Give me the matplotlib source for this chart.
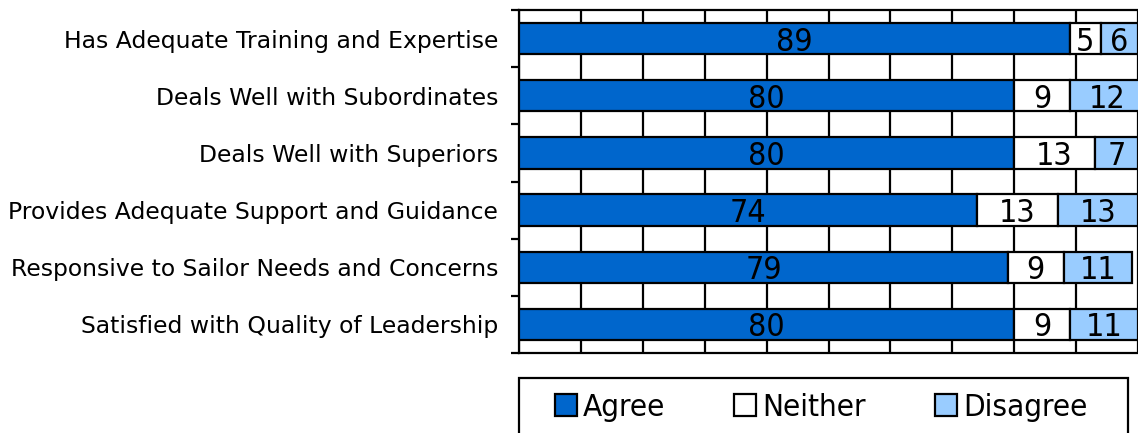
import numpy as np
import matplotlib
matplotlib.use("Agg")
import matplotlib.pyplot as plt
from matplotlib.patches import Rectangle, Patch

# данные
categories = [
    "Has Adequate Training and Expertise",
    "Deals Well with Subordinates",
    "Deals Well with Superiors",
    "Provides Adequate Support and Guidance",
    "Responsive to Sailor Needs and Concerns",
    "Satisfied with Quality of Leadership",
]
agree = [89, 80, 80, 74, 79, 80]
neither = [5, 9, 13, 13, 9, 9]
disagree = [6, 12, 7, 13, 11, 11]
series_names = ["Agree", "Neither", "Disagree"]
colors = ["#0066CC", "#FFFFFF", "#99CCFF"]

fig = plt.figure(figsize=(11.38, 4.33), dpi=100)
ax = fig.add_axes([519 / 1138, 1 - 353 / 433, 1 - 519 / 1138, (353 - 10) / 433])

y = np.arange(len(categories))
left = np.zeros(len(categories))
for vals, name, col in zip([agree, neither, disagree], series_names, colors):
    bars = ax.barh(y, vals, left=left, height=0.55, color=col, edgecolor="black",
                   linewidth=1.6, label=name, zorder=3)
    for b, v in zip(bars, vals):
        ax.text(b.get_x() + b.get_width() / 2, b.get_y() + b.get_height() / 2, str(v),
                ha="center", va="center_baseline", fontsize=23, fontstretch="condensed",
                zorder=4)
    left += np.array(vals)

ax.set_xlim(0, 100)
ax.set_ylim(len(categories) - 0.5, -0.5)

# сетка
ax.set_xticks(np.arange(0, 101, 10))
ax.set_xticklabels([])
ax.tick_params(axis="x", length=0)
ax.grid(axis="x", color="black", linewidth=1.6, zorder=0)

ax.set_yticks(np.arange(-0.5, len(categories), 1))
ax.set_yticklabels([])
ax.tick_params(axis="y", which="major", length=6, width=1.6, direction="out")
ax.set_yticks(y, minor=True)
ax.set_yticklabels(categories, minor=True, fontsize=16.9)
ax.tick_params(axis="y", which="minor", length=0, pad=15)

for s in ["left", "bottom", "top"]:
    ax.spines[s].set_linewidth(1.6)
ax.spines["right"].set_visible(False)

# легенда
fig.patches.append(Rectangle((519 / 1138, -0.05), (1128 - 519) / 1138, 1 - 378 / 433 + 0.05,
                             transform=fig.transFigure, fill=False, edgecolor="black",
                             linewidth=1.6))
handles = [Patch(facecolor=c, edgecolor="black", linewidth=1.6) for c in colors]
fig.legend(handles, series_names, loc="center left",
           bbox_to_anchor=(555 / 1138, 1 - 407 / 433), ncol=3, frameon=False,
           handlelength=0.7, handleheight=0.7, handletextpad=0.2, columnspacing=2.2,
           prop={"size": 22.5, "stretch": "condensed"}, borderpad=0, borderaxespad=0)

fig.savefig("out.png", dpi=100)
